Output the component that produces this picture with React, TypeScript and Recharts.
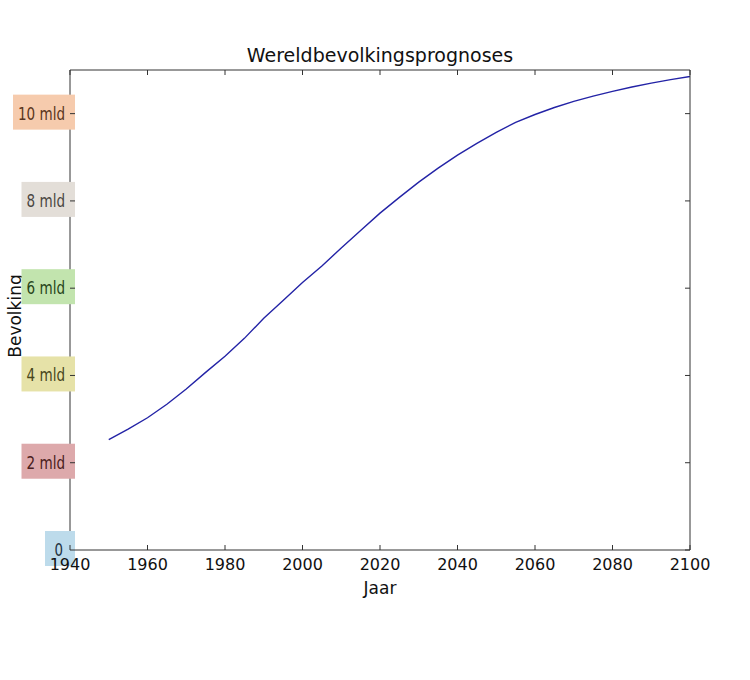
import React from 'react';
import { LineChart, Line, XAxis, YAxis, Label } from 'recharts';

const years = [1950, 1955, 1960, 1965, 1970, 1975, 1980, 1985, 1990, 1995, 2000, 2005, 2010, 2015, 2020, 2025, 2030, 2035, 2040, 2045, 2050, 2055, 2060, 2065, 2070, 2075, 2080, 2085, 2090, 2095, 2100];
const population = [2.53, 2.77, 3.03, 3.34, 3.69, 4.07, 4.44, 4.85, 5.31, 5.72, 6.13, 6.51, 6.92, 7.32, 7.72, 8.08, 8.43, 8.75, 9.05, 9.32, 9.57, 9.80, 9.98, 10.14, 10.28, 10.40, 10.51, 10.61, 10.70, 10.78, 10.85];

const xTicks = [1940, 1960, 1980, 2000, 2020, 2040, 2060, 2080, 2100];
const yTicks = [0, 2, 4, 6, 8, 10];
const yTickLabels = ['0', '2 mld', '4 mld', '6 mld', '8 mld', '10 mld'];
const yBoxColors = ['#bddbeb', '#dda9ab', '#e6e2a8', '#c2e4ae', '#e3ded8', '#f6cbad'];
const yTextColors = ['#22323f', '#4a2020', '#48461c', '#28451a', '#4a4642', '#5a3520'];

const title = 'Wereldbevolkingsprognoses';
const xLabel = 'Jaar';
const yLabel = 'Bevolking';

const data = years.map((y, i) => ({ year: y, pop: population[i] }));

const FONT = "'DejaVu Sans', sans-serif";
const AX = '#333333';

function estWidth(s: string) {
  let w = 0;
  for (const c of s) {
    if (c === ' ') w += 4.5;
    else if (c === 'm') w += 13;
    else if (c === 'l') w += 4;
    else w += 8.5;
  }
  return w;
}

const BottomTick = (props: any) => {
  const { x, y, payload } = props;
  return (
    <g>
      <line x1={x} x2={x} y1={y} y2={y - 5} stroke={AX} strokeWidth={1} />
      <text x={x} y={y + 20} textAnchor="middle" fontSize={16} fontFamily={FONT} fill="#111">
        {payload.value}
      </text>
    </g>
  );
};

const TopTick = (props: any) => {
  const { x, y } = props;
  return <line x1={x} x2={x} y1={y} y2={y + 5} stroke={AX} strokeWidth={1} />;
};

const RightTick = (props: any) => {
  const { x, y } = props;
  return <line x1={x} x2={x - 5} y1={y} y2={y} stroke={AX} strokeWidth={1} />;
};

const LeftTick = (props: any) => {
  const { x, y, payload } = props;
  const i = yTicks.indexOf(payload.value);
  const label = yTickLabels[i];
  const tw = estWidth(label);
  const textEnd = label.length === 1 ? x - 7 : x - 5;
  let left = textEnd - tw - 5;
  const right = x + 5;
  if (right - left < 30) left = right - 30;
  return (
    <g>
      <rect x={left} y={y - 19} width={right - left} height={35} fill={yBoxColors[i]} />
      <line x1={x} x2={x + 5} y1={y} y2={y} stroke={AX} strokeWidth={1} />
      <text
        x={textEnd - tw}
        y={y + 6}
        textAnchor="start"
        fontSize={17.5}
        fontFamily={FONT}
        fill={yTextColors[i]}
        textLength={tw}
        lengthAdjust="spacingAndGlyphs"
      >
        {label}
      </text>
    </g>
  );
};

export default function App() {
  return (
    <div style={{ position: 'absolute', left: 0, top: 0, width: 750, height: 680, background: '#fff' }}>
      <LineChart width={750} height={680} data={data} margin={{ top: 60, right: 50, bottom: 80, left: 0 }}>
        <YAxis
          type="number"
          domain={[0, 11]}
          ticks={yTicks}
          interval={0}
          tickSize={0}
          tickMargin={0}
          tickLine={false}
          axisLine={{ stroke: AX, strokeWidth: 1 }}
          tick={<LeftTick />}
          width={70}
          allowDataOverflow
        >
          <Label
            content={() => (
              <text
                x={21}
                y={316}
                textAnchor="middle"
                fontSize={17}
                fontFamily={FONT}
                fill="#111"
                transform="rotate(-90, 21, 316)"
              >
                {yLabel}
              </text>
            )}
          />
        </YAxis>
        <YAxis
          yAxisId="right"
          orientation="right"
          type="number"
          domain={[0, 11]}
          ticks={yTicks}
          interval={0}
          tickSize={0}
          tickMargin={0}
          tickLine={false}
          axisLine={{ stroke: AX, strokeWidth: 1 }}
          tick={<RightTick />}
          width={10}
          allowDataOverflow
        />
        <XAxis
          dataKey="year"
          type="number"
          domain={[1940, 2100]}
          ticks={xTicks}
          interval={0}
          tickSize={0}
          tickMargin={0}
          tickLine={false}
          axisLine={{ stroke: AX, strokeWidth: 1 }}
          tick={<BottomTick />}
          height={50}
          allowDataOverflow
        >
          <Label
            content={() => (
              <text x={380} y={594} textAnchor="middle" fontSize={17} fontFamily={FONT} fill="#111">
                {xLabel}
              </text>
            )}
          />
        </XAxis>
        <XAxis
          xAxisId="top"
          orientation="top"
          dataKey="year"
          type="number"
          domain={[1940, 2100]}
          ticks={xTicks}
          interval={0}
          tickSize={0}
          tickMargin={0}
          tickLine={false}
          axisLine={{ stroke: AX, strokeWidth: 1 }}
          tick={<TopTick />}
          height={10}
          allowDataOverflow
        >
          <Label
            content={() => (
              <text x={380} y={62} textAnchor="middle" fontSize={19} fontFamily={FONT} fill="#111">
                {title}
              </text>
            )}
          />
        </XAxis>
        <Line
          type="linear"
          dataKey="pop"
          stroke="#2323a6"
          strokeWidth={1.4}
          dot={false}
          activeDot={false}
          isAnimationActive={false}
        />
      </LineChart>
    </div>
  );
}
